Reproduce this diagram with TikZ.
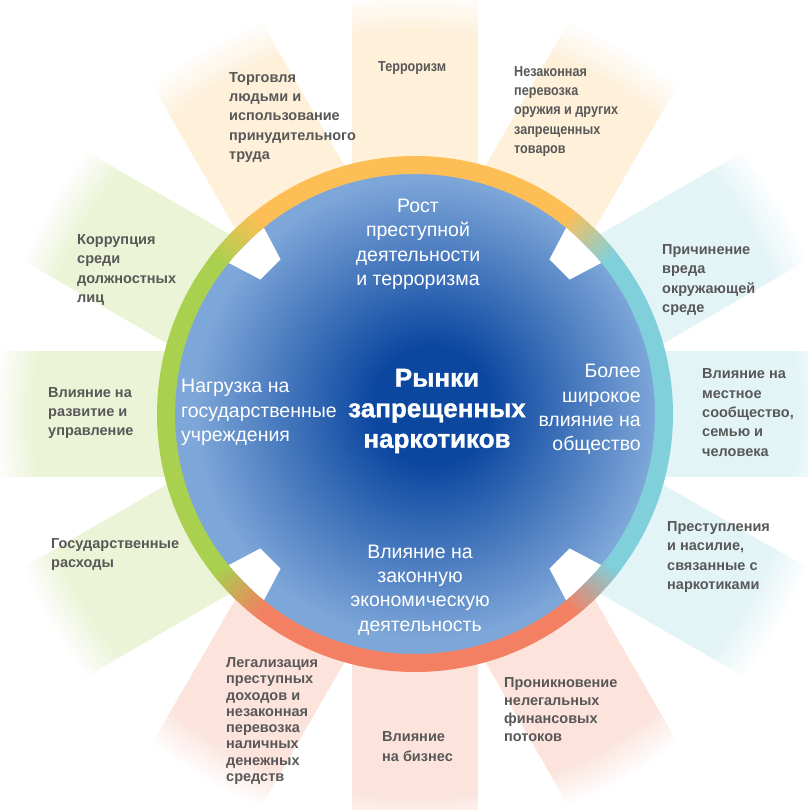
\documentclass[tikz,border=0pt]{standalone}
\usepackage{fontspec}
\setmainfont{Liberation Sans}
\newfontfamily\narrowsans{Liberation Sans}[FakeStretch=0.87]
\newfontfamily\heavysans{Liberation Sans}[UprightFont={* Bold}, FakeBold=1.2]
\usepackage{tikz}
\usepackage{xcolor}
\definecolor{Deep}{HTML}{0B469F}
\definecolor{Pale}{HTML}{7EA7D9}
\definecolor{RingOrange}{HTML}{FDBF55}
\definecolor{RingCyan}{HTML}{80D0DC}
\definecolor{RingSalmon}{HTML}{F38062}
\definecolor{RingGreen}{HTML}{A9D04F}
\definecolor{Ink}{HTML}{585858}
\pgfdeclareradialshading{core}{\pgfpoint{2bp}{1bp}}{color(0bp)=(Deep); color(6bp)=(Deep); color(24bp)=(Pale); color(50bp)=(Pale)}
\tikzset{
  band/.style={fill opacity=0.22},
  ring/.style={line width=18bp},
  notch/.style={fill=white},
  effect/.style={inner sep=0pt, anchor=west, align=left, text=Ink, font=\fontsize{14.5bp}{19.3bp}\selectfont\bfseries},
  narrow/.style={effect, font=\fontsize{14.5bp}{19.3bp}\narrowsans\bfseries},
  sector/.style={inner sep=0pt, text=white, font=\fontsize{19.5bp}{24.4bp}\selectfont},
  hub/.style={inner sep=0pt, align=center, text=white, font=\fontsize{26bp}{30.5bp}\heavysans}
}
\begin{document}
\begin{tikzpicture}[x=1bp, y=1bp]
\clip (-415,-396) rectangle (393,414);
\fill[white] (-415,-396) rectangle (393,414);
\foreach \ang/\col in {60/RingOrange,90/RingOrange,120/RingOrange,150/RingGreen,180/RingGreen,210/RingGreen,240/RingSalmon,270/RingSalmon,300/RingSalmon,330/RingCyan,0/RingCyan,30/RingCyan} \fill[band, fill=\col, rotate=\ang] (0,-63) rectangle (640,63);
\foreach \k in {1,...,10} {
  \pgfmathsetmacro\op{\k/10}
  \draw[white, draw opacity=\op, line width=4bp] (0,0) circle ({381+4*\k});
}
\fill[white, even odd rule] (0,0) circle (700) circle (422.5);
\shade[shading=core] (0,0) circle (241);
\foreach \a in {45,135,225,315} \fill[notch] ({\a-6}:241) -- ({\a+6}:241) -- ({\a+4}:205) -- ({\a-4}:205) -- cycle;
\draw[ring, RingOrange] (45:249) arc[start angle=45, end angle=135, radius=249];
\draw[ring, RingGreen] (135:249) arc[start angle=135, end angle=225, radius=249];
\draw[ring, RingSalmon] (225:249) arc[start angle=225, end angle=315, radius=249];
\draw[ring, RingCyan] (-45:249) arc[start angle=-45, end angle=45, radius=249];
\foreach \a/\ca/\cb in {45/RingCyan/RingOrange,135/RingOrange/RingGreen,225/RingGreen/RingSalmon,315/RingSalmon/RingCyan}
  \foreach \k in {0,...,14} {
    \pgfmathtruncatemacro\mix{100-\k*100/14}
    \draw[ring, draw=\ca!\mix!\cb] ({\a-7+\k}:249) arc[start angle={\a-7+\k}, end angle={\a-5.8+\k}, radius=249];
  }
\node[hub] (hub) at (22,3) {Рынки\\запрещенных\\наркотиков};
\node[sector, align=center] (crime) at (3,169.5) {Рост\\преступной\\деятельности\\и терроризма};
\node[sector, align=right, anchor=east] (society) at (226,4.5) {Более\\широкое\\влияние на\\общество};
\node[sector, align=left, anchor=west] (state) at (-234,1.5) {Нагрузка на\\государственные\\учреждения};
\node[sector, align=center] (economy) at (5,-176) {Влияние на\\законную\\экономическую\\деятельность};
\node[narrow] (terror) at (-37,346) {Терроризм};
\node[narrow] (arms) at (99,302.5) {Незаконная\\перевозка\\оружия и других\\запрещенных\\товаров};
\node[effect] (trafficking) at (-186,296.5) {Торговля\\людьми и\\использование\\принудительного\\труда};
\node[effect] (corruption) at (-338,144) {Коррупция\\среди\\должностных\\лиц};
\node[effect] (governance) at (-367,1) {Влияние на\\развитие и\\управление};
\node[effect] (spending) at (-364,-140.5) {Государственные\\расходы};
\node[effect, font=\fontsize{14.5bp}{16.3bp}\selectfont\bfseries] (laundering) at (-189,-307) {Легализация\\преступных\\доходов и\\незаконная\\перевозка\\наличных\\денежных\\средств};
\node[effect] (business) at (-33,-332.5) {Влияние\\на бизнес};
\node[effect, font=\fontsize{14.5bp}{18bp}\selectfont\bfseries] (flows) at (89,-296) {Проникновение\\нелегальных\\финансовых\\потоков};
\node[effect] (violence) at (252,-143) {Преступления\\и насилие,\\связанные с\\наркотиками};
\node[effect] (community) at (287,1.5) {Влияние на\\местное\\сообщество,\\семью и\\человека};
\node[effect] (environment) at (247,134) {Причинение\\вреда\\окружающей\\среде};
\end{tikzpicture}
\end{document}
